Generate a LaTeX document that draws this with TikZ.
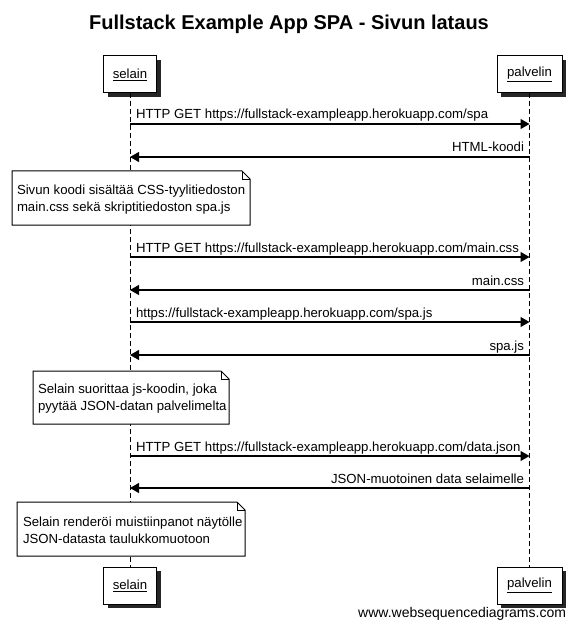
\documentclass[tikz,border=0pt]{standalone}
\usepackage{fontspec}
\setmainfont{Liberation Sans}
\usetikzlibrary{arrows.meta,shadows}
\begin{document}
\begin{tikzpicture}[x=1pt,y=-1pt,
  every node/.style={inner sep=0pt, outer sep=0pt},
  txt/.style={font=\fontsize{13.2}{17}\selectfont},
  actorbox/.style={draw, fill=white, line width=1pt, minimum width=53pt, minimum height=37pt,
     font=\fontsize{13.2}{16}\selectfont,
     drop shadow={shadow xshift=4pt, shadow yshift=-4pt, fill=black!85, opacity=1}},
  actorboxw/.style={actorbox, minimum width=65pt},
  lifeline/.style={line width=1pt, dash pattern=on 5pt off 3pt},
  msg/.style={line width=1.1pt, -{Triangle[length=9pt,width=10pt]}},
  notebg/.style={draw, fill=white, line width=1pt, line join=miter},
  notetext/.style={txt, align=left, anchor=west}
]
\useasboundingbox (0,0) rectangle (576,631);

% title
\node[font=\bfseries\fontsize{20}{24}\selectfont] (title) at (289,24) {Fullstack Example App SPA - Sivun lataus};

% actors
\node[actorbox] (s1) at (130,74.5) {\underline{selain}};
\node[actorboxw] (p1) at (529.5,74.5) {\underline{palvelin}};
\node[actorbox] (s2) at (130,585.5) {\underline{selain}};
\node[actorboxw] (p2) at (529.5,585.5) {\underline{palvelin}};

% lifelines
\draw[lifeline] (s1.south) -- (s2.north);
\draw[lifeline] (p1.south) -- (p2.north);

% messages
\coordinate (a1) at (130,124); \coordinate (b1) at (529.5,124);
\coordinate (a2) at (130,157); \coordinate (b2) at (529.5,157);
\coordinate (a3) at (130,257); \coordinate (b3) at (529.5,257);
\coordinate (a4) at (130,290); \coordinate (b4) at (529.5,290);
\coordinate (a5) at (130,322); \coordinate (b5) at (529.5,322);
\coordinate (a6) at (130,355); \coordinate (b6) at (529.5,355);
\coordinate (a7) at (130,456); \coordinate (b7) at (529.5,456);
\coordinate (a8) at (130,488); \coordinate (b8) at (529.5,488);

\draw[msg] (a1) -- (b1);
\node[txt, anchor=base west] (l1) at (136,119) {HTTP GET https://fullstack-exampleapp.herokuapp.com/spa};
\draw[msg] (b2) -- (a2);
\node[txt, anchor=base east] (l2) at (524,152) {HTML-koodi};
\draw[msg] (a3) -- (b3);
\node[txt, anchor=base west] (l3) at (136,252) {HTTP GET https://fullstack-exampleapp.herokuapp.com/main.css};
\draw[msg] (b4) -- (a4);
\node[txt, anchor=base east] (l4) at (524,285) {main.css};
\draw[msg] (a5) -- (b5);
\node[txt, anchor=base west] (l5) at (136,317) {https://fullstack-exampleapp.herokuapp.com/spa.js};
\draw[msg] (b6) -- (a6);
\node[txt, anchor=base east] (l6) at (524,350) {spa.js};
\draw[msg] (a7) -- (b7);
\node[txt, anchor=base west] (l7) at (136,451) {HTTP GET https://fullstack-exampleapp.herokuapp.com/data.json};
\draw[msg] (b8) -- (a8);
\node[txt, anchor=base east] (l8) at (524,483) {JSON-muotoinen data selaimelle};

% notes
\draw[notebg] (12,171) -- (242,171) -- (250,179) -- (250,225) -- (12,225) -- cycle;
\draw[line width=0.8pt] (242,171) -- (242,179) -- (250,179);
\node[notetext] (n1) at (17,200) {Sivun koodi sisältää CSS-tyylitiedoston\\main.css sekä skriptitiedoston spa.js};

\draw[notebg] (33,371) -- (221,371) -- (229,379) -- (229,424) -- (33,424) -- cycle;
\draw[line width=0.8pt] (221,371) -- (221,379) -- (229,379);
\node[notetext] (n2) at (38,398.5) {Selain suorittaa js-koodin, joka\\pyytää JSON-datan palvelimelta};

\draw[notebg] (17,502) -- (237,502) -- (245,510) -- (245,556) -- (17,556) -- cycle;
\draw[line width=0.8pt] (237,502) -- (237,510) -- (245,510);
\node[notetext] (n3) at (23,530) {Selain renderöi muistiinpanot näytölle\\JSON-datasta taulukkomuotoon};

% footer
\node[font=\fontsize{14}{16}\selectfont, anchor=east] (foot) at (566,614) {www.websequencediagrams.com};
\end{tikzpicture}
\end{document}
